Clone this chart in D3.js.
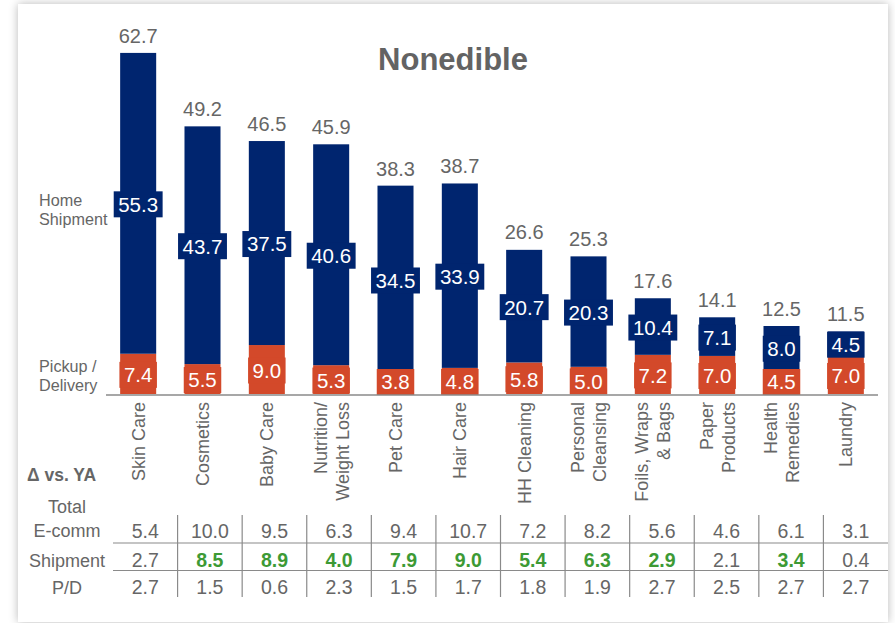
<!DOCTYPE html>
<html>
<head>
<meta charset="utf-8">
<script src="https://cdn.jsdelivr.net/npm/d3@7"></script>
<style>
  html, body { margin: 0; padding: 0; background: #ffffff; }
  body { width: 895px; height: 623px; overflow: hidden; position: relative; }
  #card {
    position: absolute; left: 18px; top: 4px; width: 870px; height: 618px;
    background: #ffffff; box-shadow: 0 0 9px rgba(0,0,0,0.28);
  }
  svg { position: absolute; left: 0; top: 0; }
  text { font-family: "Liberation Sans", Arial, sans-serif; }
</style>
</head>
<body>
<div id="card"></div>
<svg id="chart" width="895" height="623"></svg>
<script>
// Category names (line breaks split rotated labels)
const categories = ["Skin Care", "Cosmetics", "Baby Care", "Nutrition/\nWeight Loss", "Pet Care", "Hair Care",
  "HH Cleaning", "Personal\nCleansing", "Foils, Wraps\n& Bags", "Paper\nProducts", "Health\nRemedies", "Laundry"];
// Stacked segments
const homeShipment   = [55.3, 43.7, 37.5, 40.6, 34.5, 33.9, 20.7, 20.3, 10.4, 7.1, 8.0, 4.5];
const pickupDelivery = [7.4, 5.5, 9.0, 5.3, 3.8, 4.8, 5.8, 5.0, 7.2, 7.0, 4.5, 7.0];
const totals         = [62.7, 49.2, 46.5, 45.9, 38.3, 38.7, 26.6, 25.3, 17.6, 14.1, 12.5, 11.5];
// Change vs. year ago
const ecommDelta    = [5.4, 10.0, 9.5, 6.3, 9.4, 10.7, 7.2, 8.2, 5.6, 4.6, 6.1, 3.1];
const shipmentDelta = [2.7, 8.5, 8.9, 4.0, 7.9, 9.0, 5.4, 6.3, 2.9, 2.1, 3.4, 0.4];
const shipmentHighlight = [false, true, true, true, true, true, true, true, true, false, true, false];
const pdDelta       = [2.7, 1.5, 0.6, 2.3, 1.5, 1.7, 1.8, 1.9, 2.7, 2.5, 2.7, 2.7];

const NAVY = "#00256f", RED = "#d3492a", GREEN = "#3d9a35", GREY = "#666666";

const svg = d3.select("#chart");

const x = d3.scaleBand().domain(d3.range(categories.length))
  .range([106, 878]).paddingInner(0.44).paddingOuter(0.22);
const y = d3.scaleLinear().domain([0, 70]).range([394, 13.2]);

// Title
svg.append("text").attr("x", 453).attr("y", 70).attr("text-anchor", "middle")
  .attr("font-size", 31).attr("font-weight", "bold").attr("fill", "#636363").text("Nonedible");

// Series labels on the left
const sideLabel = (lines, ys) => lines.forEach((t, i) =>
  svg.append("text").attr("x", 39).attr("y", ys[i]).attr("font-size", 16.2).attr("fill", GREY).text(t));
sideLabel(["Home", "Shipment"], [206, 225]);
sideLabel(["Pickup /", "Delivery"], [372, 391]);

const rows = categories.map((c, i) => ({ i, c, home: homeShipment[i], pd: pickupDelivery[i], total: totals[i] }));

const bars = svg.append("g").selectAll("g").data(rows).join("g");

// Pickup / Delivery segment (bottom)
bars.append("rect")
  .attr("x", d => x(d.i)).attr("width", x.bandwidth())
  .attr("y", d => y(d.pd)).attr("height", d => y(0) - y(d.pd))
  .attr("fill", RED);
// Home Shipment segment (top)
bars.append("rect")
  .attr("x", d => x(d.i)).attr("width", x.bandwidth())
  .attr("y", d => y(d.pd + d.home)).attr("height", d => y(d.pd) - y(d.pd + d.home))
  .attr("fill", NAVY);

// Segment value labels with a filled box behind
function segLabel(sel, val, lo, color) {
  sel.each(function(d) {
    const g = d3.select(this);
    const cx = x(d.i) + x.bandwidth() / 2;
    const cy = Math.min((y(lo(d)) + y(lo(d) + val(d))) / 2 + 1, 382);
    const t = g.append("text").attr("x", cx).attr("y", cy).attr("dy", "0.36em")
      .attr("text-anchor", "middle").attr("font-size", 20.5).attr("fill", "#ffffff")
      .text(val(d).toFixed(1));
    const w = t.node().getComputedTextLength();
    g.insert("rect", () => t.node())
      .attr("x", cx - w / 2 - 4.5).attr("width", w + 9)
      .attr("y", cy - 13).attr("height", 26).attr("fill", color);
  });
}
segLabel(bars, d => d.home, d => d.pd, NAVY);
segLabel(bars, d => d.pd, d => 0, RED);

// Totals above bars
bars.append("text")
  .attr("x", d => x(d.i) + x.bandwidth() / 2).attr("y", d => y(d.total) - 10)
  .attr("text-anchor", "middle").attr("font-size", 20).attr("fill", GREY)
  .text(d => d.total.toFixed(1));

// Baseline
svg.append("line").attr("x1", 106).attr("x2", 878).attr("y1", 395).attr("y2", 395)
  .attr("stroke", "#8a8a8a").attr("stroke-width", 1.5);

// Rotated category labels
const catG = svg.append("g").selectAll("text").data(rows).join("text")
  .attr("transform", d => `translate(${x(d.i) + x.bandwidth() / 2},402) rotate(-90)`)
  .attr("text-anchor", "end").attr("font-size", 18).attr("fill", GREY);
catG.each(function(d) {
  const lines = d.c.split("\n");
  const off = -(lines.length - 1) * 11;
  lines.forEach((ln, k) => {
    d3.select(this).append("tspan").attr("x", 0).attr("y", off + k * 22).attr("dy", "0.36em").text(ln);
  });
});

// Table of changes vs. year ago
svg.append("text").attr("x", 27).attr("y", 481).attr("font-size", 17.5).attr("font-weight", "bold")
  .attr("fill", GREY).text("\u0394 vs. YA");
[["Total", 513], ["E-comm", 537], ["Shipment", 567], ["P/D", 594]].forEach(([t, yy]) =>
  svg.append("text").attr("x", 67).attr("y", yy).attr("text-anchor", "middle")
    .attr("font-size", 18).attr("fill", GREY).text(t));

const tx = d3.scaleBand().domain(d3.range(categories.length)).range([113, 888]);
const grid = svg.append("g").attr("stroke", "#8a8a8a").attr("stroke-width", 1.2);
[543, 570.5].forEach(yy => grid.append("line").attr("x1", 113).attr("x2", 888).attr("y1", yy).attr("y2", yy));
d3.range(1, categories.length).forEach(k =>
  grid.append("line").attr("x1", tx(k)).attr("x2", tx(k)).attr("y1", 515).attr("y2", 597));

const tableRows = [
  { vals: ecommDelta, y: 538, hl: () => false },
  { vals: shipmentDelta, y: 567, hl: i => shipmentHighlight[i] },
  { vals: pdDelta, y: 594, hl: () => false }
];
tableRows.forEach(r => {
  svg.append("g").selectAll("text").data(r.vals).join("text")
    .attr("x", (v, i) => tx(i) + tx.bandwidth() / 2).attr("y", r.y)
    .attr("text-anchor", "middle").attr("font-size", 19.5)
    .attr("font-weight", (v, i) => r.hl(i) ? "bold" : "normal")
    .attr("fill", (v, i) => r.hl(i) ? GREEN : GREY)
    .text(v => v.toFixed(1));
});
</script>
</body>
</html>
